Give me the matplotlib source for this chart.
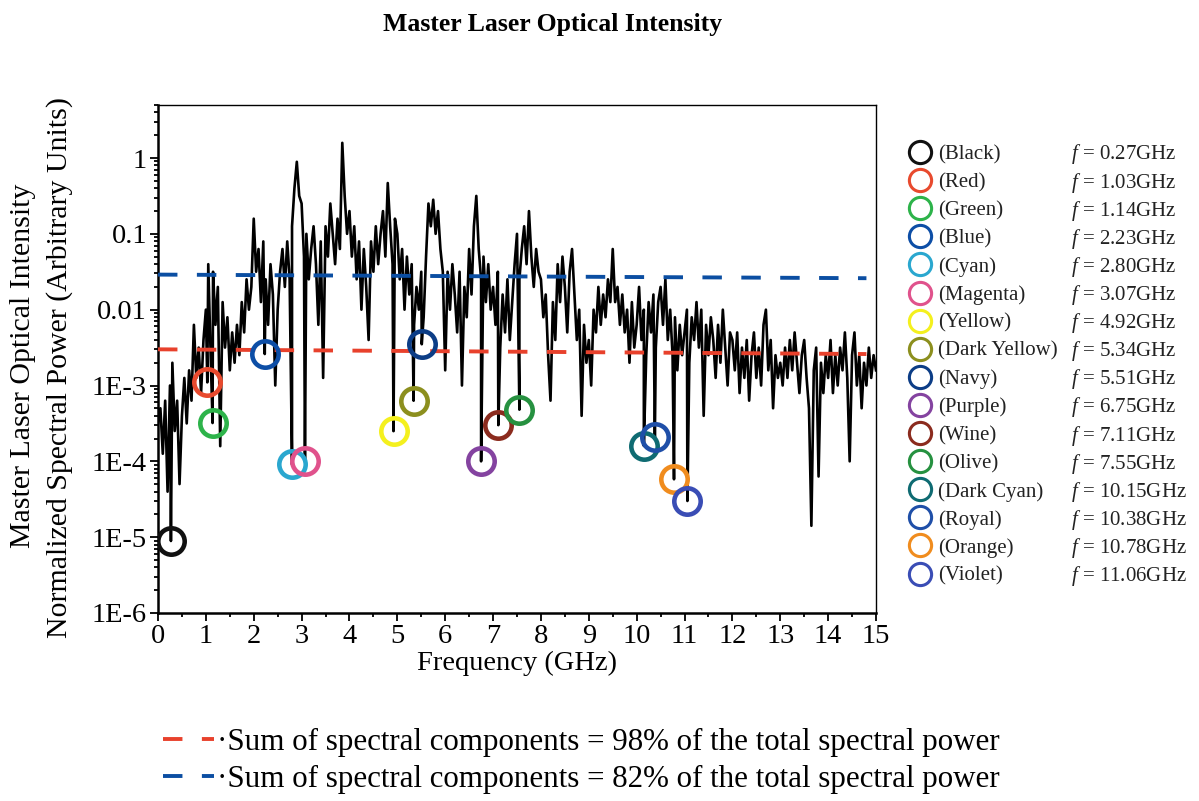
import numpy as np
import matplotlib
matplotlib.use("Agg")
import matplotlib.pyplot as plt
from matplotlib.ticker import FixedLocator, MultipleLocator, LogLocator, NullFormatter

plt.rcParams['font.family'] = ['Liberation Serif', 'DejaVu Serif']
plt.rcParams['mathtext.fontset'] = 'custom'
plt.rcParams['mathtext.rm'] = 'Liberation Serif'
plt.rcParams['mathtext.it'] = 'Liberation Serif:italic'

# ---------------- data ----------------
# spectrum: log10 of normalized power, sampled every 0.05 GHz from 0 to 15 GHz
spec_log = [
    # 0 GHz
    -3.5, -3.3, -3.9, -3.2, -4.4, -3.0, -2.7, -3.6, -3.2, -4.3,
    -3.4, -2.9, -3.5, -2.8, -3.2, -2.2, -2.9, -2.5, -3.1, -2.4,
    # 1 GHz
    -2.0, -1.4, -2.6, -1.5, -2.2, -1.7, -3.8, -1.9, -2.5, -2.1,
    -2.8, -2.3, -2.7, -2.2, -2.6, -1.9, -2.3, -1.6, -2.0, -1.7,
    # 2 GHz
    -0.8, -1.5, -1.2, -1.9, -1.1, -1.6, -2.2, -1.4, -1.8, -3.0,
    -2.0, -1.5, -1.2, -1.7, -1.1, -1.6, -0.9, -0.4, -0.05, -0.5,
    # 3 GHz
    -0.6, -1.3, -1.0, -1.6, -1.2, -0.9, -1.4, -2.2, -1.1, -2.9,
    -0.9, -1.3, -0.6, -1.0, -1.4, -0.8, -1.2, 0.2, -0.5, -1.0,
    # 4 GHz
    -0.7, -1.3, -0.9, -1.6, -1.1, -2.0, -1.2, -1.7, -2.4, -1.1,
    -1.5, -0.9, -1.4, -1.0, -0.7, -1.3, -0.33, -0.9, -1.4, -0.8,
    # 5 GHz
    -1.0, -1.6, -1.2, -2.0, -1.3, -1.8, -1.4, -2.2, -1.7, -2.0,
    -1.5, -2.1, -1.3, -0.6, -0.9, -0.55, -1.0, -0.7, -1.2, -1.5,
    # 6 GHz
    -2.8, -1.5, -2.0, -1.4, -1.8, -2.3, -1.5, -3.0, -1.7, -2.1,
    -1.2, -1.8, -0.9, -0.5, -1.2, -1.6, -1.3, -1.9, -1.4, -2.0,
    # 7 GHz
    -1.7, -2.2, -1.5, -2.5, -1.8, -2.3, -1.6, -2.4, -1.9, -1.4,
    -1.0, -1.6, -1.2, -0.9, -1.4, -0.7, -1.3, -1.7, -1.2, -1.5,
    # 8 GHz
    -1.6, -2.1, -1.8, -2.6, -3.2, -1.9, -2.4, -1.4, -1.9, -1.3,
    -1.7, -2.3, -1.5, -1.2, -1.8, -2.4, -2.0, -3.4, -2.2, -2.7,
    # 9 GHz
    -2.4, -3.0, -2.0, -2.3, -1.7, -2.2, -1.8, -2.1, -1.6, -1.9,
    -1.2, -1.9, -1.7, -2.2, -1.8, -2.3, -2.0, -2.7, -1.9, -2.5,
    # 10 GHz
    -2.2, -1.7, -2.4, -2.0, -2.6, -1.9, -2.3, -1.8, -2.5, -1.9,
    -1.7, -2.2, -1.6, -2.4, -2.0, -2.6, -2.1, -2.8, -2.2, -2.6,
    # 11 GHz
    -2.3, -2.0, -2.7, -2.1, -2.4, -1.9, -2.5, -2.0, -3.4, -2.2,
    -2.6, -2.1, -2.4, -2.9, -2.2, -2.7, -2.0, -2.5, -3.0, -2.3,
    # 12 GHz
    -2.4, -2.8, -2.3, -3.1, -2.5, -2.9, -2.4, -3.2, -2.6, -2.3,
    -2.9, -2.5, -3.0, -2.2, -2.0, -2.8, -2.4, -3.3, -2.6, -2.9,
    # 13 GHz
    -2.7, -3.0, -2.5, -2.9, -2.4, -2.8, -2.3, -2.7, -3.1, -2.6,
    -2.4, -2.9, -3.3, -4.85, -2.8, -2.5, -4.2, -2.7, -3.1, -2.6,
    # 14 GHz
    -2.9, -2.4, -3.1, -2.6, -3.0, -2.5, -2.8, -2.3, -2.9, -4.0,
    -2.6, -2.3, -3.0, -2.6, -3.3, -2.7, -3.0, -2.5, -2.9, -2.6,
    # 15 GHz
    -2.8,
]
spec_freq = np.linspace(0.0, 15.0, len(spec_log))

marker_names = ["Black", "Red", "Green", "Blue", "Cyan", "Magenta", "Yellow",
                "Dark Yellow", "Navy", "Purple", "Wine", "Olive", "Dark Cyan",
                "Royal", "Orange", "Violet"]
marker_freq = [0.27, 1.03, 1.14, 2.23, 2.80, 3.07, 4.92, 5.34, 5.51, 6.75,
               7.11, 7.55, 10.15, 10.38, 10.78, 11.06]
marker_power = [8.9e-6, 1.1e-3, 3.2e-4, 2.6e-3, 9.1e-5, 1.0e-4, 2.5e-4, 6.3e-4,
                3.5e-3, 1.0e-4, 3.0e-4, 4.8e-4, 1.6e-4, 2.1e-4, 5.8e-5, 3.0e-5]
marker_colors = ["#111111", "#e84a2e", "#2db34a", "#0d4ea6", "#2aa7cf", "#e0528c",
                 "#f4f01e", "#8c8f1e", "#0c3d86", "#8443a0", "#8b2b1e", "#269140",
                 "#0f6b72", "#1f4fa8", "#f08c1e", "#3a4db5"]

# threshold lines (start / end values)
thr_x = [0.0, 14.8]
thr98 = [0.0030, 0.0026]
thr82 = [0.029, 0.026]
thr98_label = "\u00b7Sum of spectral components = 98% of the total spectral power"
thr82_label = "\u00b7Sum of spectral components = 82% of the total spectral power"

ytick_vals = [1e-6, 1e-5, 1e-4, 1e-3, 1e-2, 1e-1, 1]
ytick_labels = ["1E-6", "1E-5", "1E-4", "1E-3", "0.01", "0.1", "1"]
xtick_vals = list(range(0, 16))

# ---------------- figure ----------------
W, H = 1199, 801
fig = plt.figure(figsize=(W / 100, H / 100), dpi=100)
ax = fig.add_axes([158 / W, 1 - 613 / H, (876 - 158) / W, (613 - 105) / H])

f_all = np.concatenate([spec_freq, marker_freq])
p_all = np.concatenate([10.0 ** np.array(spec_log), marker_power])
order = np.argsort(f_all, kind="stable")
ax.plot(f_all[order], p_all[order], color="black", lw=1.9, zorder=2)

red_line, = ax.plot(thr_x, thr98, color="#e8412c", lw=2.8, dashes=(5.0, 5.0), zorder=3)
blue_line, = ax.plot(thr_x, thr82, color="#0b4ea2", lw=2.8, dashes=(5.0, 5.0), zorder=3)

for f, p, c in zip(marker_freq, marker_power, marker_colors):
    ax.plot([f], [p], marker="o", ms=19, mfc="none", mec=c, mew=3.3, zorder=4,
            linestyle="none")

ax.set_yscale("log")
ax.set_ylim(1e-6, 5)
ax.set_xlim(0, 15)
ax.yaxis.set_major_locator(FixedLocator(ytick_vals))
ax.set_yticklabels(ytick_labels)
ax.yaxis.set_minor_locator(LogLocator(base=10, subs=np.arange(2, 10)))
ax.yaxis.set_minor_formatter(NullFormatter())
ax.set_xticks(xtick_vals)
ax.xaxis.set_minor_locator(MultipleLocator(0.5))
ax.tick_params(which="both", direction="out", top=False, right=False,
               labelsize=20.5, width=1.3)
ax.tick_params(which="major", length=6, pad=2)
ax.tick_params(which="minor", length=3)
for s in ["left", "bottom"]:
    ax.spines[s].set_linewidth(1.8)
for s in ["top", "right"]:
    ax.spines[s].set_linewidth(1.0)
ax.set_xlabel("Frequency (GHz)", fontsize=20.5, labelpad=1)

fig.text(23 / W, 1 - 366 / H, "Master Laser Optical Intensity", rotation=90,
         ha="center", va="center", fontsize=21.5)
fig.text(60 / W, 1 - 368 / H, "Normalized Spectral Power (Arbitrary Units)",
         rotation=90, ha="center", va="center", fontsize=21.5)

fig.text(553 / W, 1 - 24 / H, "Master Laser Optical Intensity", ha="center",
         va="center", fontsize=18.5, fontweight="bold")

# right-hand marker key
key = fig.add_axes([0, 0, 1, 1])
key.set_xlim(0, W)
key.set_ylim(H, 0)
key.axis("off")
for i, (name, f, c) in enumerate(zip(marker_names, marker_freq, marker_colors)):
    yy = 152 + 28.1 * i
    key.plot([920], [yy], marker="o", ms=16, mfc="none", mec=c, mew=2.2,
             linestyle="none")
    key.text(938, yy + 2.5, f"({name})", ha="left", va="center", fontsize=15,
             color="#222222")
    key.text(1071, yy + 2.5, f"$f$ = {f:.2f}GHz", ha="left", va="center",
             fontsize=15, color="#222222")

fig.legend([red_line, blue_line], [thr98_label, thr82_label],
           loc="center left", bbox_to_anchor=(163 / W, 1 - 761 / H),
           frameon=False, fontsize=22.3, handlelength=1.65, handletextpad=0.1,
           labelspacing=0.26, borderpad=0, borderaxespad=0)

fig.savefig("out.png", dpi=100)
